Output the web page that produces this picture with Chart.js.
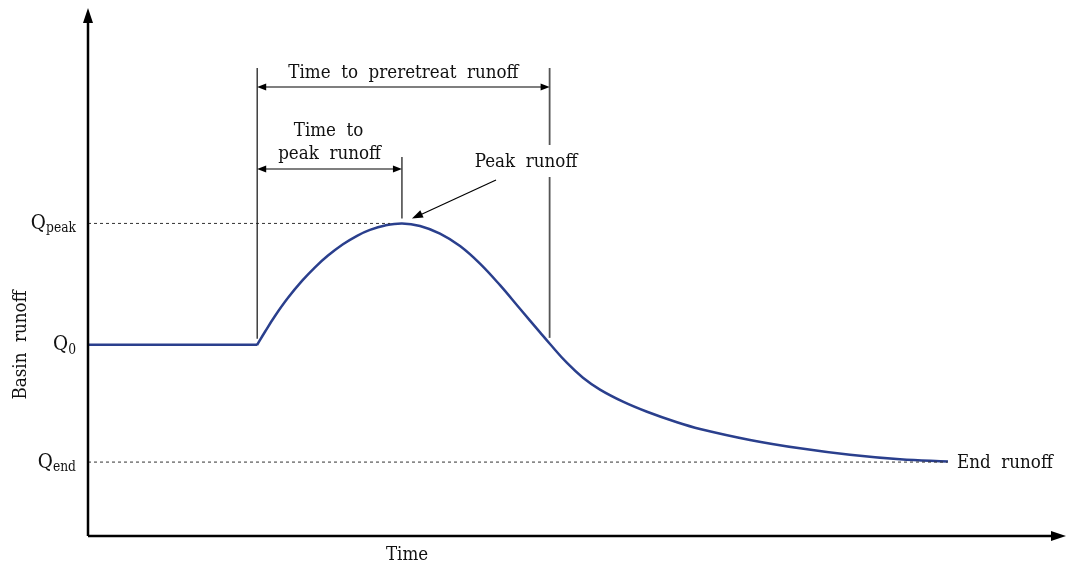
<!DOCTYPE html>
<html lang="en">
<head>
    <meta charset="UTF-8">
    <title>Basin runoff hydrograph</title>
    <script src="https://cdn.jsdelivr.net/npm/chart.js@4.4.1/dist/chart.umd.min.js"></script>
    <style>
        body {
            margin: 0;
            background: #ffffff;
        }
        #chart-container {
            width: 1067px;
            height: 568px;
            position: relative;
        }
    </style>
</head>
<body>
    <div id="chart-container">
        <canvas id="runoff-chart"></canvas>
    </div>

    <script>
        // runoff levels (y units, 0-100)
        const qBase = 36.2;
        const qPeak = 59.2;
        const qEnd = 14.0;

        // key times (x units, 0-100)
        const tStart = 17.3;
        const tPeak = 32.1;
        const tPreretreat = 47.2;
        const tEnd = 87.9;

        // flat part before the event
        const baseTime = [0, tStart];
        const baseFlow = [qBase, qBase];

        // hydrograph
        const curveTime = [17.28, 18.10, 19.12, 20.45, 21.88, 23.21, 24.54, 26.07, 27.51, 28.83, 30.37, 32.11,
            33.95, 35.99, 38.04, 40.08, 42.13, 44.17, 46.22, 47.24, 48.98, 50.61, 52.35, 54.70, 57.16, 60.22,
            62.58, 67.69, 72.80, 77.91, 83.03, 87.93];
        const curveFlow = [36.17, 38.69, 41.67, 45.11, 48.31, 50.89, 53.11, 55.25, 56.86, 57.97, 58.81, 59.19,
            58.71, 57.27, 54.92, 51.59, 47.50, 43.03, 38.56, 36.36, 32.77, 29.98, 27.73, 25.45, 23.54, 21.55,
            20.28, 18.20, 16.61, 15.38, 14.53, 14.11];

        const yLabels = [
            { main: 'Q', sub: 'peak', value: qPeak },
            { main: 'Q', sub: '0', value: qBase },
            { main: 'Q', sub: 'end', value: qEnd }
        ];

        const curveColor = '#2a3f8d';
        const serif = '"DejaVu Serif", "Liberation Serif", serif';
        const squeeze = 0.88; // the original face is narrower than DejaVu

        function pts(xs, ys) {
            return xs.map((x, i) => ({ x: x, y: ys[i] }));
        }

        function arrowHead(ctx, x, y, angle, len, half) {
            ctx.save();
            ctx.translate(x, y);
            ctx.rotate(angle);
            ctx.beginPath();
            ctx.moveTo(0, 0);
            ctx.lineTo(-len, -half);
            ctx.lineTo(-len, half);
            ctx.closePath();
            ctx.fill();
            ctx.restore();
        }

        function line(ctx, x1, y1, x2, y2) {
            ctx.beginPath();
            ctx.moveTo(x1, y1);
            ctx.lineTo(x2, y2);
            ctx.stroke();
        }

        // text drawn a bit condensed; align is 'left', 'center' or 'right'
        function label(ctx, text, x, y, size, align) {
            ctx.save();
            ctx.font = size + 'px ' + serif;
            ctx.textAlign = align;
            ctx.textBaseline = 'middle';
            ctx.translate(x, y);
            ctx.scale(squeeze, 1);
            ctx.fillText(text, 0, 0);
            const w = ctx.measureText(text).width * squeeze;
            ctx.restore();
            return w;
        }

        const annotations = {
            id: 'annotations',
            afterDatasetsDraw(chart) {
                const ctx = chart.ctx;
                const area = chart.chartArea;
                const xs = chart.scales.x;
                const ys = chart.scales.y;
                ctx.save();

                // axes with arrows
                ctx.strokeStyle = '#000';
                ctx.fillStyle = '#000';
                ctx.lineWidth = 2.5;
                line(ctx, area.left, area.bottom, area.left, area.top + 10);
                line(ctx, area.left, area.bottom, area.right - 10, area.bottom);
                arrowHead(ctx, area.left, area.top, -Math.PI / 2, 15, 5);
                arrowHead(ctx, area.right, area.bottom, 0, 15, 5);

                // bracket lines
                const xa = xs.getPixelForValue(tStart);
                const xb = xs.getPixelForValue(tPeak);
                const xc = xs.getPixelForValue(tPreretreat);
                const yBase = ys.getPixelForValue(qBase);
                const yPk = ys.getPixelForValue(qPeak);
                ctx.strokeStyle = '#222';
                ctx.lineWidth = 1.3;
                line(ctx, xa, 68, xa, yBase - 6);
                line(ctx, xb, 157, xb, yPk - 5);
                ctx.strokeStyle = '#555';
                ctx.lineWidth = 1.8;
                line(ctx, xc, 68, xc, 145);
                line(ctx, xc, 177, xc, yBase - 7);

                ctx.strokeStyle = '#000';
                ctx.fillStyle = '#000';
                ctx.lineWidth = 1.2;
                line(ctx, xa + 6, 87, xc - 6, 87);
                arrowHead(ctx, xa, 87, Math.PI, 9, 3.5);
                arrowHead(ctx, xc, 87, 0, 9, 3.5);
                line(ctx, xa + 6, 169, xb - 6, 169);
                arrowHead(ctx, xa, 169, Math.PI, 9, 3.5);
                arrowHead(ctx, xb, 169, 0, 9, 3.5);

                // pointer to the peak
                const px = xb + 10, py = yPk - 5;
                line(ctx, 496, 180, px + 7, py - 3);
                arrowHead(ctx, px, py, Math.atan2(py - 180, px - 496), 11, 4);

                // texts
                ctx.fillStyle = '#111';
                label(ctx, 'Time  to  preretreat  runoff', (xa + xc) / 2, 73, 19, 'center');
                label(ctx, 'Time  to', (xa + xb) / 2 - 1, 131, 19, 'center');
                label(ctx, 'peak  runoff', (xa + xb) / 2, 154, 19, 'center');
                label(ctx, 'Peak  runoff', 526, 162, 19, 'center');
                label(ctx, 'Time', 407, 555, 19, 'center');
                label(ctx, 'End  runoff', 957, 463, 19, 'left');

                ctx.save();
                ctx.translate(21, 345);
                ctx.rotate(-Math.PI / 2);
                label(ctx, 'Basin  runoff', 0, 0, 19, 'center');
                ctx.restore();

                // y labels with subscripts
                yLabels.forEach(lab => {
                    const y = ys.getPixelForValue(lab.value);
                    const subW = label(ctx, lab.sub, 76, y + 5, 14, 'right');
                    label(ctx, lab.main, 76 - subW, y, 21, 'right');
                });

                ctx.restore();
            }
        };

        const ctx = document.getElementById('runoff-chart').getContext('2d');
        const runoffChart = new Chart(ctx, {
            type: 'line',
            data: {
                datasets: [
                    {
                        label: 'Peak level',
                        data: pts([0, tPeak - 1.2], [qPeak, qPeak]),
                        borderColor: '#333',
                        borderWidth: 1,
                        borderDash: [3, 3],
                        pointRadius: 0
                    },
                    {
                        label: 'End level',
                        data: pts([0, tEnd], [qEnd, qEnd]),
                        borderColor: '#333',
                        borderWidth: 1,
                        borderDash: [3, 3],
                        pointRadius: 0
                    },
                    {
                        label: 'Base flow',
                        data: pts(baseTime, baseFlow),
                        borderColor: curveColor,
                        borderWidth: 2.5,
                        pointRadius: 0
                    },
                    {
                        label: 'Runoff',
                        data: pts(curveTime, curveFlow),
                        borderColor: curveColor,
                        borderWidth: 2.5,
                        pointRadius: 0,
                        tension: 0.4
                    }
                ]
            },
            options: {
                responsive: true,
                maintainAspectRatio: false,
                animation: false,
                layout: {
                    padding: { left: 88, right: 1, top: 8, bottom: 32 }
                },
                plugins: {
                    legend: { display: false },
                    tooltip: { enabled: false }
                },
                scales: {
                    x: { type: 'linear', min: 0, max: 100, display: false },
                    y: { min: 0, max: 100, display: false }
                }
            },
            plugins: [annotations]
        });
    </script>
</body>
</html>
